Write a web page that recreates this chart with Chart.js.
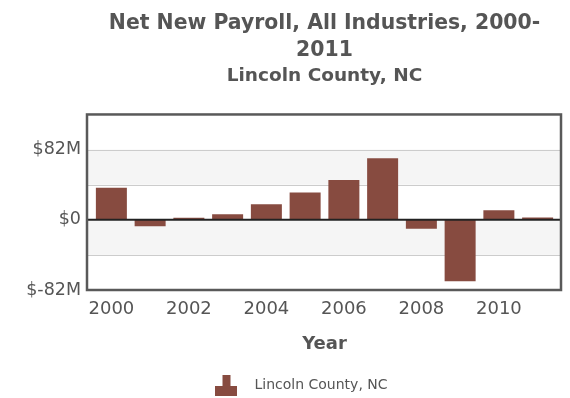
<!DOCTYPE html>
<html lang="en">
<head>
<meta charset="UTF-8" />
<title>Net New Payroll</title>
<script src="https://cdn.jsdelivr.net/npm/chart.js@4.4.1/dist/chart.umd.min.js"></script>
<style>
 * { margin: 0; padding: 0; box-sizing: border-box; }
 body { width: 570px; height: 398px; background: #fff; overflow: hidden; }
 .wrap { position: relative; width: 570px; height: 398px; }
</style>
</head>
<body>
<div class="wrap">
 <canvas id="chart" width="570" height="398"></canvas>
</div>
<script>
 // Dados (valores em milhões de dólares)
 const years = ['2000', '2001', '2002', '2003', '2004', '2005', '2006', '2007', '2008', '2009', '2010', '2011']
 const payroll = [37.3, -7.5, 2.3, 6.5, 18, 31.8, 46.6, 71.8, -10.5, -71.9, 11.2, 2.7]
 const yTicksShown = [-82, 0, 82]

 const textGray = '#555555'
 const barColor = '#874b40'
 const fontFam = 'DejaVu Sans, Verdana, sans-serif'
 // a moldura fica um pouco fora da área das barras
 const insetL = 5
 const insetR = 4

 // ícone da legenda: três barrinhas
 const legendIcon = document.createElement('canvas')
 legendIcon.width = 22
 legendIcon.height = 22
 const ic = legendIcon.getContext('2d')
 ic.fillStyle = barColor
 ic.fillRect(0, 12, 7, 10)
 ic.fillRect(7, 1, 8, 21)
 ic.fillRect(15, 12, 7, 10)

 // faixas alternadas e moldura da área do gráfico
 const bandsAndFrame = {
  id: 'bandsAndFrame',
  afterLayout(chart) {
   // legenda um pouco à direita, como no original
   chart.legend.left += 18
   chart.legend.right += 18
  },
  beforeDatasetsDraw(chart) {
   const { ctx, chartArea, scales } = chart
   const ticks = scales.y.ticks
   const left = chartArea.left - insetL
   const width = chartArea.right + insetR - left
   ctx.save()
   ctx.fillStyle = '#f5f5f5'
   for (let i = 0; i < ticks.length - 1; i++) {
    if (i % 2 === 1) {
     const y1 = scales.y.getPixelForValue(ticks[i].value)
     const y2 = scales.y.getPixelForValue(ticks[i + 1].value)
     ctx.fillRect(left, y2, width, y1 - y2)
    }
   }
   // linhas de grade por cima das faixas
   ticks.forEach(t => {
    if (t.value === 0) return
    const y = Math.round(scales.y.getPixelForValue(t.value)) + 0.5
    ctx.strokeStyle = '#cccccc'
    ctx.lineWidth = 1
    ctx.beginPath()
    ctx.moveTo(left, y)
    ctx.lineTo(left + width, y)
    ctx.stroke()
   })
   ctx.restore()
  },
  afterDatasetsDraw(chart) {
   const { ctx, chartArea, scales } = chart
   const left = chartArea.left - insetL
   const width = chartArea.right + insetR - left
   ctx.save()
   const y0 = scales.y.getPixelForValue(0)
   ctx.strokeStyle = '#222222'
   ctx.lineWidth = 2
   ctx.beginPath()
   ctx.moveTo(left, y0)
   ctx.lineTo(left + width, y0)
   ctx.stroke()
   ctx.strokeStyle = '#595959'
   ctx.lineWidth = 2.5
   ctx.strokeRect(left, chartArea.top, width, chartArea.bottom - chartArea.top)
   ctx.restore()
  }
 }

 new Chart(document.getElementById('chart'), {
  type: 'bar',
  plugins: [bandsAndFrame],
  data: {
   labels: years,
   datasets: [
    {
     label: 'Lincoln County, NC',
     data: payroll,
     backgroundColor: barColor,
     borderWidth: 0,
     barPercentage: 0.8,
     categoryPercentage: 1
    }
   ]
  },
  options: {
   responsive: false,
   animation: false,
   devicePixelRatio: 1,
   layout: { padding: { left: 0, right: 9 + insetR, top: 6, bottom: -4 } },
   plugins: {
    tooltip: { enabled: false },
    title: {
     display: true,
     fullSize: false,
     text: ['Net New Payroll, All Industries, 2000-', '2011'],
     color: textGray,
     font: { family: fontFam, size: 20.4, weight: 'bold', lineHeight: 1.33 },
     padding: { top: 4, bottom: 1 }
    },
    subtitle: {
     display: true,
     fullSize: false,
     text: 'Lincoln County, NC',
     color: textGray,
     font: { family: fontFam, size: 18.5, weight: 'bold' },
     padding: { top: 0, bottom: 27 }
    },
    legend: {
     position: 'bottom',
     labels: {
      usePointStyle: true,
      pointStyle: legendIcon,
      pointStyleWidth: 42,
      color: textGray,
      font: { family: fontFam, size: 14 },
      padding: 4
     }
    }
   },
   scales: {
    x: {
     grid: { display: false, drawTicks: false },
     border: { display: false },
     afterFit: s => { s.height = 84 },
     ticks: {
      autoSkip: false,
      maxRotation: 0,
      color: textGray,
      font: { family: fontFam, size: 18 },
      padding: 9,
      callback: (v, i) => (i % 2 === 0 ? years[i] : '')
     },
     title: {
      display: true,
      text: 'Year',
      color: textGray,
      font: { family: fontFam, size: 18, weight: 'bold' },
      padding: { top: 0, bottom: 19 }
     }
    },
    y: {
     min: -82,
     max: 123,
     grid: { display: false, drawTicks: false },
     border: { display: false },
     afterFit: s => { s.width = 87 + insetL },
     ticks: {
      stepSize: 41,
      color: textGray,
      font: { family: fontFam, size: 17.5 },
      padding: 6 + insetL,
      callback: v => (yTicksShown.includes(v) ? (v === 0 ? '$0' : '$' + v + 'M') : '')
     }
    }
   }
  }
 })
</script>
</body>
</html>
